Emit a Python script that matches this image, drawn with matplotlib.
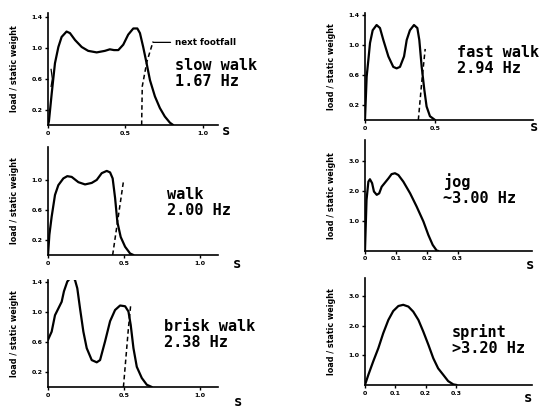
import matplotlib.pyplot as plt

# --- data (time in s, load / static weight) ---
slow_t = [0.0, 0.006, 0.013, 0.024, 0.045, 0.067, 0.088, 0.12, 0.142, 0.175, 0.218, 0.26, 0.315, 0.368, 0.4, 0.427, 0.455, 0.487, 0.519, 0.552, 0.578, 0.595, 0.616, 0.638, 0.66, 0.692, 0.724, 0.756, 0.789, 0.81]
slow_y = [0.0, 0.05, 0.19, 0.41, 0.8, 1.01, 1.14, 1.21, 1.19, 1.1, 1.01, 0.96, 0.94, 0.96, 0.98, 0.97, 0.97, 1.04, 1.17, 1.25, 1.25, 1.19, 1.01, 0.8, 0.58, 0.37, 0.22, 0.11, 0.03, 0.0]
slow_next_t = [0.606, 0.61, 0.64, 0.68]
slow_next_y = [0.0, 0.5, 0.82, 1.08]

fast_t = [0.0, 0.012, 0.024, 0.036, 0.055, 0.083, 0.107, 0.131, 0.167, 0.202, 0.226, 0.25, 0.279, 0.298, 0.321, 0.35, 0.374, 0.388, 0.405, 0.424, 0.44, 0.464, 0.5]
fast_y = [0.0, 0.58, 0.8, 1.03, 1.2, 1.27, 1.23, 1.07, 0.85, 0.71, 0.69, 0.71, 0.85, 1.07, 1.2, 1.27, 1.23, 1.07, 0.71, 0.4, 0.18, 0.05, 0.0]
fast_next_t = [0.381, 0.405, 0.43]
fast_next_y = [0.0, 0.5, 0.95]

walk_t = [0.0, 0.009, 0.024, 0.046, 0.068, 0.101, 0.127, 0.156, 0.2, 0.244, 0.288, 0.321, 0.354, 0.387, 0.409, 0.426, 0.442, 0.457, 0.479, 0.508, 0.541, 0.563]
walk_y = [0.0, 0.27, 0.51, 0.8, 0.93, 1.02, 1.05, 1.04, 0.97, 0.94, 0.96, 1.0, 1.09, 1.12, 1.1, 1.02, 0.76, 0.44, 0.24, 0.11, 0.02, 0.0]
walk_next_t = [0.426, 0.497]
walk_next_y = [0.0, 0.98]

jog_t = [0.0, 0.005, 0.011, 0.016, 0.023, 0.029, 0.038, 0.046, 0.054, 0.065, 0.076, 0.086, 0.097, 0.108, 0.124, 0.146, 0.167, 0.189, 0.205, 0.219, 0.232, 0.237]
jog_y = [0.0, 1.7, 2.31, 2.39, 2.26, 1.98, 1.87, 1.92, 2.14, 2.28, 2.42, 2.56, 2.59, 2.53, 2.31, 1.92, 1.48, 0.98, 0.53, 0.2, 0.01, 0.0]

brisk_t = [0.0, 0.004, 0.024, 0.046, 0.068, 0.09, 0.105, 0.127, 0.156, 0.178, 0.193, 0.211, 0.233, 0.255, 0.288, 0.321, 0.343, 0.376, 0.409, 0.442, 0.475, 0.508, 0.53, 0.545, 0.563, 0.585, 0.618, 0.651, 0.684]
brisk_y = [0.63, 0.65, 0.74, 0.96, 1.05, 1.14, 1.28, 1.41, 1.48, 1.43, 1.32, 1.05, 0.74, 0.52, 0.36, 0.33, 0.36, 0.61, 0.88, 1.03, 1.09, 1.08, 1.01, 0.83, 0.52, 0.27, 0.12, 0.03, 0.0]
brisk_next_t = [0.497, 0.53, 0.545]
brisk_next_y = [0.0, 0.79, 1.1]

sprint_t = [0.0, 0.011, 0.027, 0.044, 0.06, 0.077, 0.093, 0.11, 0.126, 0.143, 0.159, 0.176, 0.192, 0.209, 0.225, 0.241, 0.258, 0.274, 0.291, 0.302]
sprint_y = [0.0, 0.34, 0.79, 1.24, 1.74, 2.19, 2.49, 2.66, 2.7, 2.64, 2.47, 2.19, 1.8, 1.35, 0.9, 0.56, 0.34, 0.13, 0.02, 0.0]

walk_ticks = [0.2, 0.6, 1.0, 1.4]
walk_tick_labels = ["0.2", "0.6", "1.0", "1.4"]
run_ticks = [1.0, 2.0, 3.0]
run_tick_labels = ["1.0", "2.0", "3.0"]
long_x = [0, 0.5, 1.0]
long_x_labels = ["0", "0.5", "1.0"]
short_x = [0, 0.1, 0.2, 0.3]
short_x_labels = ["0", "0.1", "0.2", "0.3"]

fig = plt.figure(figsize=(5.5, 4.08), dpi=100)
fig.patch.set_facecolor("white")

mono = "DejaVu Sans Mono"
curve = dict(color="black", lw=1.6, solid_joinstyle="round", solid_capstyle="round")
dash = dict(color="black", lw=1.1, ls=(0, (3, 2)))


def make_axes(rect, xlim, ylim, yticks, ylabels, xticks, xlabels):
    ax = fig.add_axes(rect)
    ax.set_xlim(*xlim)
    ax.set_ylim(*ylim)
    for side in ["top", "right"]:
        ax.spines[side].set_visible(False)
    for side in ["left", "bottom"]:
        ax.spines[side].set_linewidth(1.2)
    ax.set_yticks(yticks)
    ax.set_yticklabels(ylabels, fontsize=4.5, fontweight="bold")
    ax.set_xticks(xticks)
    ax.set_xticklabels(xlabels, fontsize=4.5, fontweight="bold")
    ax.tick_params(length=2, width=1, pad=2)
    ax.set_ylabel("load / static weight", fontsize=5.8, fontweight="bold", labelpad=9)
    return ax


def label(ax, lines, x, y):
    ax.text(x, y, lines, transform=ax.transAxes, family=mono, fontweight="bold",
            fontsize=11, va="top", ha="left", linespacing=1.1)


def s_label(x, y):
    fig.text(x / 550, 1 - y / 408, "s", family=mono, fontweight="bold", fontsize=10,
             ha="center", va="center")


# slow walk
ax1 = make_axes([0.0873, 0.6936, 0.309, 0.2745], (0, 1.1), (0, 1.45),
                walk_ticks, walk_tick_labels, long_x, long_x_labels)
ax1.plot(slow_t, slow_y, **curve)
ax1.plot(slow_next_t, slow_next_y, **dash)
ax1.plot([0.02, 0.028, 0.02], [0.72, 0.6, 0.5], color="black", lw=0.9)
ax1.annotate("next footfall", xy=(0.68, 1.07), xytext=(0.82, 1.07),
             fontsize=6.3, fontweight="bold", va="center", annotation_clip=False,
             arrowprops=dict(arrowstyle="-", lw=0.9, color="black", shrinkA=1, shrinkB=0))
label(ax1, "slow walk\n1.67 Hz", 0.75, 0.6)
s_label(226, 131)

# fast walk
ax2 = make_axes([0.6636, 0.706, 0.3055, 0.262], (0, 1.2), (0, 1.43),
                walk_ticks, walk_tick_labels, [0, 0.5], ["0", "0.5"])
ax2.plot(fast_t, fast_y, **curve)
ax2.plot(fast_next_t, fast_next_y, **dash)
label(ax2, "fast walk\n2.94 Hz", 0.55, 0.70)
s_label(534, 127)

# walk
ax3 = make_axes([0.0873, 0.375, 0.309, 0.265], (0, 1.12), (0, 1.44),
                [0.2, 0.6, 1.0], ["0.2", "0.6", "1.0"], long_x, long_x_labels)
ax3.plot(walk_t, walk_y, **curve)
ax3.plot(walk_next_t, walk_next_y, **dash)
label(ax3, "walk\n2.00 Hz", 0.7, 0.63)
s_label(237, 264)

# jog
ax4 = make_axes([0.6636, 0.385, 0.3036, 0.272], (0, 0.54), (0, 3.7),
                run_ticks, run_tick_labels, short_x, short_x_labels)
ax4.plot(jog_t, jog_y, **curve)
label(ax4, "jog\n~3.00 Hz", 0.47, 0.70)
s_label(530, 265)

# brisk walk
ax5 = make_axes([0.0873, 0.0515, 0.309, 0.262], (0, 1.12), (0, 1.43),
                walk_ticks, walk_tick_labels, long_x, long_x_labels)
ax5.plot(brisk_t, brisk_y, **curve)
ax5.plot(brisk_next_t, brisk_next_y, **dash)
label(ax5, "brisk walk\n2.38 Hz", 0.68, 0.64)
s_label(238, 402)

# sprint
ax6 = make_axes([0.6636, 0.0564, 0.3036, 0.262], (0, 0.55), (0, 3.6),
                run_ticks, run_tick_labels, short_x, short_x_labels)
ax6.plot(sprint_t, sprint_y, **curve)
label(ax6, "sprint\n>3.20 Hz", 0.52, 0.575)
s_label(528, 398)

fig.savefig("out.png", dpi=100, facecolor="white")
